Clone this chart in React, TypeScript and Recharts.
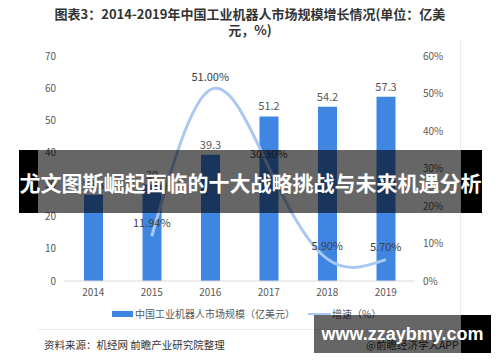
import React from "react"
import { ComposedChart, Bar, Line, XAxis, YAxis, LabelList } from "recharts"

const years = ["2014", "2015", "2016", "2017", "2018", "2019"]
const marketSize = [26.8, 30, 39.3, 51.2, 54.2, 57.3]
const growth: (number | null)[] = [null, 11.94, 51.0, 30.3, 5.9, 5.7]
const leftTicks = [0, 10, 20, 30, 40, 50, 60, 70]
const rightTicks = [0, 10, 20, 30, 40, 50, 60]

const data = years.map((year, i) => ({ year, size: marketSize[i], growth: growth[i] }))

const FONT = "'Noto Sans CJK SC', 'Noto Sans', sans-serif"
const BAR = "#3f86e3"
const LINE = "#a9c9f3"

export default function App() {
  return (
    <div style={{ position: "absolute", left: 0, top: 0, width: 500, height: 362, background: "#fff", fontFamily: FONT, overflow: "hidden" }}>
      {/* title */}
      <div style={{ position: "absolute", left: 0, top: 6, width: 500, textAlign: "center", fontSize: 13, fontWeight: 700, color: "#333", lineHeight: "16px" }}>
        <div>图表3：2014-2019年中国工业机器人市场规模增长情况(单位：亿美</div>
        <div>元，%)</div>
      </div>

      {/* frame lines */}
      <div style={{ position: "absolute", left: 460, top: 40, width: 1, height: 290, background: "#e8eef6" }} />
      <div style={{ position: "absolute", left: 38, top: 329, width: 423, height: 1, background: "#e8eef6" }} />

      <div style={{ position: "absolute", left: 0, top: 0 }}>
        <ComposedChart width={500} height={362} data={data} margin={{ top: 56, right: 55, bottom: 51, left: 34 }}>
          <XAxis dataKey="year" axisLine={{ stroke: "#d9d9d9" }} tickLine={false} tick={{ fill: "#595959", fontSize: 10, fontFamily: FONT }} />
          <YAxis yAxisId="left" domain={[0, 70]} ticks={leftTicks} width={30} axisLine={false} tickLine={false} tick={{ fill: "#595959", fontSize: 10, fontFamily: FONT }} />
          <YAxis yAxisId="right" orientation="right" domain={[0, 60]} ticks={rightTicks} width={30} axisLine={false} tickLine={false}
            tickFormatter={(v: number) => `${v}%`} tick={{ fill: "#595959", fontSize: 10, fontFamily: FONT, textAnchor: "start" }} />
          <Bar yAxisId="left" dataKey="size" fill={BAR} barSize={19} isAnimationActive={false}>
            <LabelList dataKey="size" position="top" offset={6} fill="#595959" fontSize={11} fontFamily={FONT} />
          </Bar>
          <Line yAxisId="right" type="natural" dataKey="growth" stroke={LINE} strokeWidth={3} dot={false} activeDot={false} isAnimationActive={false}>
            <LabelList dataKey="growth" position="top" offset={9} fill="#404040" fontSize={11} fontFamily={FONT}
              formatter={(v: any) => (v == null ? "" : `${Number(v).toFixed(2)}%`)} />
          </Line>
        </ComposedChart>
      </div>

      {/* legend */}
      <div style={{ position: "absolute", left: 112, top: 311, width: 21, height: 6, background: BAR }} />
      <div style={{ position: "absolute", left: 135, top: 306, fontSize: 10, color: "#595959", lineHeight: "16px", whiteSpace: "nowrap" }}>中国工业机器人市场规模（亿美元）</div>
      <div style={{ position: "absolute", left: 308, top: 313, width: 23, height: 2, background: LINE }} />
      <div style={{ position: "absolute", left: 332, top: 306, fontSize: 10, color: "#595959", lineHeight: "16px", whiteSpace: "nowrap" }}>增速（%）</div>

      {/* source */}
      <div style={{ position: "absolute", left: 44, top: 337, fontSize: 10.5, color: "#333", lineHeight: "16px", whiteSpace: "nowrap" }}>资料来源：机经网 前瞻产业研究院整理</div>
      <div style={{ position: "absolute", left: 366, top: 337, fontSize: 10.5, color: "#333", lineHeight: "16px", whiteSpace: "nowrap" }}>@前瞻经济学人APP</div>

      {/* banner overlays */}
      <div style={{ position: "absolute", left: 19, top: 150, width: 19, height: 63, background: "#000" }} />
      <div style={{ position: "absolute", left: 38, top: 150, width: 423, height: 63, background: "rgba(0,0,0,0.6)" }} />
      <div style={{ position: "absolute", left: 461, top: 150, width: 21, height: 63, background: "#000" }} />
      <div style={{ position: "absolute", left: 19, top: 150, width: 463, height: 63, display: "flex", alignItems: "center", justifyContent: "center", color: "#fff", fontSize: 21, fontWeight: 700, whiteSpace: "nowrap" }}>
        尤文图斯崛起面临的十大战略挑战与未来机遇分析
      </div>

      <div style={{ position: "absolute", left: 314, top: 315, width: 147, height: 38, background: "rgba(0,0,0,0.6)" }} />
      <div style={{ position: "absolute", left: 461, top: 315, width: 30, height: 38, background: "#000" }} />
      <div style={{ position: "absolute", left: 314, top: 315, width: 177, height: 38, display: "flex", alignItems: "center", justifyContent: "center", color: "#fff", fontSize: 18, fontWeight: 700, fontFamily: "'Liberation Sans', Arial, sans-serif", whiteSpace: "nowrap" }}>
        www.zzaybmy.com
      </div>
    </div>
  )
}
